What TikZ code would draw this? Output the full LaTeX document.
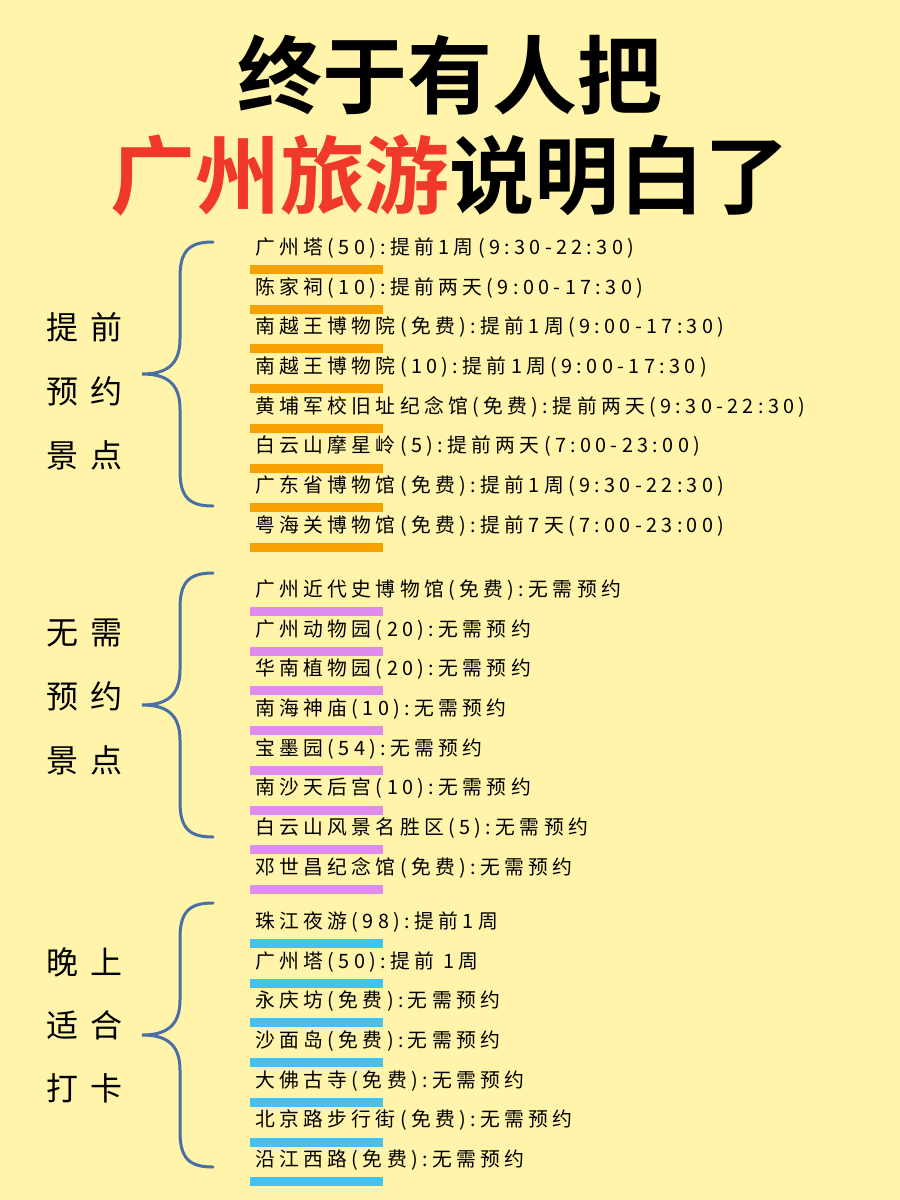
\documentclass[tikz,border=0pt]{standalone}
\usepackage{fontspec}
\newfontfamily\cjk{Noto Sans CJK SC}[LetterSpace=22]
\newfontfamily\cjkl{Noto Sans CJK SC}[LetterSpace=40]
\newfontfamily\cjkt{Noto Sans CJK SC}[BoldFont={* Bold}]
\definecolor{bg}{HTML}{FFF4A9}
\definecolor{tred}{HTML}{F0392B}
\definecolor{orb}{HTML}{F7A100}
\definecolor{pkb}{HTML}{E08CEF}
\definecolor{blb}{HTML}{41C1F4}
\definecolor{brc}{HTML}{4A6EA6}
\begin{document}
\begin{tikzpicture}[x=1pt,y=-1pt,
  entry/.style={anchor=west,inner sep=0pt,font=\cjk\fontsize{19.8}{19.8}\selectfont},
  lab/.style={anchor=west,inner sep=0pt,font=\cjkl\fontsize{32}{32}\selectfont},
  brace/.style={draw=brc,line width=3pt,line cap=round}]
\fill[bg] (0,0) rectangle (900,1200);
\useasboundingbox (0,0) rectangle (900,1200);
\node[inner sep=0pt,font=\cjkt\bfseries\fontsize{85}{85}\selectfont] (t1) at (450,75) {终于有人把};
\node[inner sep=0pt,font=\cjkt\bfseries\fontsize{85}{85}\selectfont] (t2) at (450,175) {\textcolor{tred}{广州旅游}说明白了};
\newcommand\mybrace[2]{% top y, bottom y
  \pgfmathsetmacro\mid{(#1+#2)/2}
  \draw[brace] (213,#1) .. controls (190,#1) and (180,#1+8) .. (180,#1+35)
    -- (180,\mid-35) .. controls (180,\mid-8) and (165,\mid) .. (142,\mid)
    .. controls (165,\mid) and (180,\mid+8) .. (180,\mid+35)
    -- (180,#2-35) .. controls (180,#2-8) and (190,#2) .. (213,#2);}
\mybrace{242}{506}
\mybrace{573}{837}
\mybrace{903}{1167}
\node[lab] (a1) at (46,327) {提前};
\node[lab] (a2) at (46,391) {预约};
\node[lab] (a3) at (46,455) {景点};
\node[lab] (b1) at (46,633) {无需};
\node[lab] (b2) at (46,696) {预约};
\node[lab] (b3) at (46,760) {景点};
\node[lab] (c1) at (46,962) {晚上};
\node[lab] (c2) at (46,1025) {适合};
\node[lab] (c3) at (46,1088) {打卡};
\newcommand\rows[3]{% start y, color, list
  \foreach \t [count=\i from 0] in {#3} {
    \pgfmathsetmacro\yy{#1+\i*39.7}
    \fill[#2] (250,\yy+17) rectangle (383,\yy+26);
    \node[entry] (e\i) at (255,\yy) {\t};
  }}
\rows{248}{orb}{广州塔(50):提前1周(9:30-22:30),陈家祠(10):提前两天(9:00-17:30),南越王博物院(免费):提前1周(9:00-17:30),南越王博物院(10):提前1周(9:00-17:30),黄埔军校旧址纪念馆(免费):提前两天(9:30-22:30),白云山摩星岭(5):提前两天(7:00-23:00),广东省博物馆(免费):提前1周(9:30-22:30),粤海关博物馆(免费):提前7天(7:00-23:00)}
\rows{590}{pkb}{广州近代史博物馆(免费):无需预约,广州动物园(20):无需预约,华南植物园(20):无需预约,南海神庙(10):无需预约,宝墨园(54):无需预约,南沙天后宫(10):无需预约,白云山风景名胜区(5):无需预约,邓世昌纪念馆(免费):无需预约}
\rows{922}{blb}{珠江夜游(98):提前1周,广州塔(50):提前 1周,永庆坊(免费):无需预约,沙面岛(免费):无需预约,大佛古寺(免费):无需预约,北京路步行街(免费):无需预约,沿江西路(免费):无需预约}
\end{tikzpicture}
\end{document}
